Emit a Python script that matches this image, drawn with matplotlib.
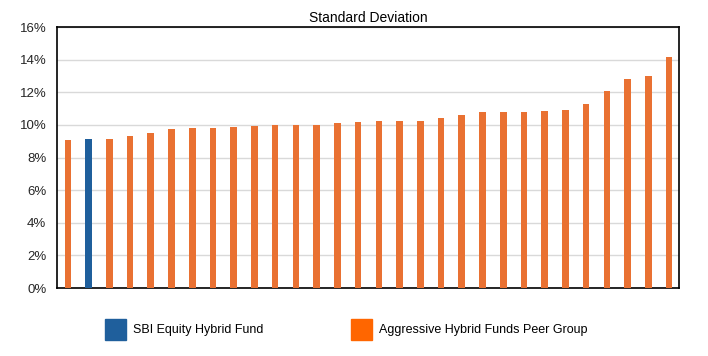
import matplotlib.pyplot as plt
from matplotlib.patches import Patch
from matplotlib.ticker import PercentFormatter

# std deviation (%) for each fund, sorted; the 2nd one is the SBI fund
std_dev = [9.07, 9.13, 9.13, 9.32, 9.50, 9.75, 9.81, 9.81, 9.87, 9.93,
           10.00, 10.00, 10.00, 10.12, 10.18, 10.24, 10.24, 10.24, 10.42, 10.61,
           10.79, 10.79, 10.79, 10.85, 10.91, 11.28, 12.08, 12.81, 13.00, 14.16]
is_sbi = [False, True] + [False] * 28
legend_labels = ["SBI Equity Hybrid Fund", "Aggressive Hybrid Funds Peer Group"]

orange = "#E97132"
blue = "#1F5F9C"

plt.rcParams['font.family'] = ['Liberation Sans', 'DejaVu Sans']

fig = plt.figure(figsize=(7.08, 3.56), dpi=100)
ax = fig.add_axes([0.0812, 0.191, 0.8785, 0.733])

colors = [blue if s else orange for s in is_sbi]
ax.bar(range(len(std_dev)), std_dev, width=0.32, color=colors, zorder=3)

ax.set_xlim(-0.5, len(std_dev) - 0.5)
ax.set_ylim(0, 16)
ax.set_yticks(range(0, 17, 2))
ax.yaxis.set_major_formatter(PercentFormatter(decimals=0))
ax.set_xticks([])
ax.tick_params(axis='y', length=0, labelsize=9.5, colors="#262626", pad=8)
ax.grid(axis='y', color="#D9D9D9", linewidth=1, zorder=0)
for sp in ax.spines.values():
    sp.set_color("black")
    sp.set_linewidth(1.2)

ax.set_title("Standard Deviation", fontsize=10, pad=4)

handles = [Patch(color=blue), Patch(color="#FF6600")]
fig.legend(handles, legend_labels, loc="center left", bbox_to_anchor=(0.133, 0.075),
           ncol=2, frameon=False, fontsize=9, handlelength=1.68, handleheight=2.2,
           handletextpad=0.56, columnspacing=7.0)

fig.savefig("out.png", dpi=100)
